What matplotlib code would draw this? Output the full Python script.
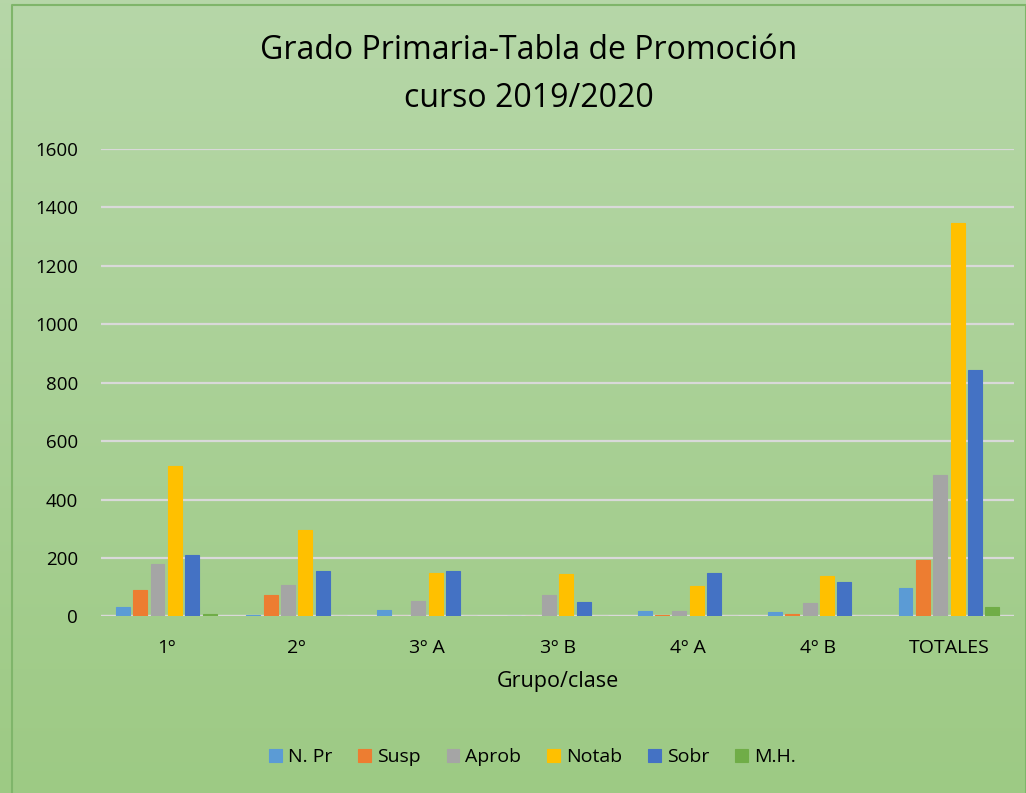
import numpy as np
import matplotlib.pyplot as plt

grupos = ["1º", "2º", "3º A", "3º B", "4º A", "4º B", "TOTALES"]
series = ["N. Pr", "Susp", "Aprob", "Notab", "Sobr", "M.H."]
n_pr = [32, 4, 23, 0, 18, 14, 96]
susp = [92, 72, 2, 1, 6, 7, 192]
aprob = [181, 108, 52, 72, 18, 45, 483]
notab = [514, 295, 149, 145, 103, 138, 1348]
sobr = [211, 156, 154, 48, 150, 119, 845]
mh = [8, 2, 1, 0, 3, 2, 34]
colores = ["#5b9bd5", "#ed7d31", "#a5a5a5", "#ffc000", "#4472c4", "#70ad47"]

plt.rcParams['font.family'] = ['Open Sans', 'DejaVu Sans']

fig = plt.figure(figsize=(10.26, 7.93), dpi=100)

# fondo degradado verde
bg = fig.add_axes([0, 0, 1, 1], zorder=-10)
grad = np.linspace(0, 1, 256).reshape(-1, 1)
top = np.array([0.714, 0.843, 0.659])
bot = np.array([0.616, 0.792, 0.518])
img = top + (bot - top) * grad[:, :, None]
bg.imshow(img, aspect="auto", extent=[0, 1, 0, 1])
bg.set_xlim(0, 1)
bg.set_ylim(0, 1)
bg.axis("off")
bg.plot([0.012, 0.012, 1, 1], [0, 0.994, 0.994, 0], color="#7fb56a", lw=1.5)

ax = fig.add_axes([0.0984, 0.2226, 0.890, 0.5895])
ax.patch.set_alpha(0)

x = np.arange(len(grupos))
w = 0.107
paso = 0.133
datos = [n_pr, susp, aprob, notab, sobr, mh]
for i, (nombre, vals) in enumerate(zip(series, datos)):
    off = (i - 2.5) * paso
    ax.bar(x + off, vals, width=w, color=colores[i], label=nombre,
           edgecolor=colores[i], linewidth=0.8, zorder=3)

ax.set_xlim(-0.5, len(grupos) - 0.5)
ax.set_ylim(0, 1600)
ax.set_yticks(range(0, 1601, 200))
ax.yaxis.grid(True, color="#d9d9d9", lw=1.6, zorder=0)
ax.set_xticks(x)
ax.set_xticklabels(grupos)
ax.tick_params(length=0, labelsize=14, colors="#000000")
ax.tick_params(axis="x", pad=16)
ax.tick_params(axis="y", pad=16.5, labelsize=13.5)
for s in ax.spines.values():
    s.set_visible(False)
ax.axhline(0, color="#d9d9d9", lw=1.6, zorder=2)

ax.set_xlabel("Grupo/clase", fontsize=15.5, labelpad=10)
fig.text(0.515, 0.906, "Grado Primaria-Tabla de Promoción\ncurso 2019/2020",
         ha="center", va="center", fontsize=23, linespacing=1.6)

fig.legend(loc="center", bbox_to_anchor=(0.519, 0.0454), ncol=6, frameon=False,
           fontsize=14, handlelength=0.65, handleheight=0.65, handletextpad=0.3,
           columnspacing=1.35)

fig.savefig("out.png", dpi=100)
